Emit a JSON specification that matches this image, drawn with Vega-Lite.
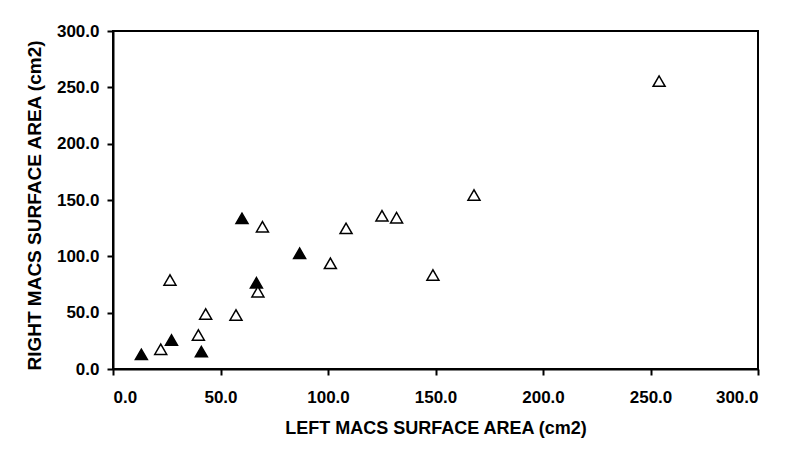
{
  "$schema": "https://vega.github.io/schema/vega-lite/v6.json",
  "width": 645,
  "height": 338,
  "autosize": {"type": "none"},
  "padding": {"left": 113, "top": 31, "right": 42, "bottom": 95},
  "background": "white",
  "config": {
    "view": {"stroke": "black", "strokeWidth": 2},
    "axis": {
      "grid": false,
      "domainColor": "black",
      "domainWidth": 2,
      "tickColor": "black",
      "tickWidth": 2,
      "tickSize": 6,
      "labelFont": "Liberation Sans",
      "labelFontWeight": "bold",
      "labelFontSize": 17,
      "labelColor": "black",
      "titleFont": "Liberation Sans",
      "titleFontWeight": "bold",
      "titleColor": "black",
      "format": ".1f"
    }
  },
  "data": {
    "values": [
      {"left": 13.2, "right": 13.0, "group": "filled"},
      {"left": 27.2, "right": 25.7, "group": "filled"},
      {"left": 41.1, "right": 15.4, "group": "filled"},
      {"left": 60.0, "right": 133.7, "group": "filled"},
      {"left": 66.7, "right": 76.6, "group": "filled"},
      {"left": 86.8, "right": 102.7, "group": "filled"},
      {"left": 22.2, "right": 17.5, "group": "open"},
      {"left": 26.5, "right": 79.0, "group": "open"},
      {"left": 39.7, "right": 30.2, "group": "open"},
      {"left": 43.1, "right": 48.8, "group": "open"},
      {"left": 57.2, "right": 47.9, "group": "open"},
      {"left": 67.4, "right": 68.6, "group": "open"},
      {"left": 69.5, "right": 126.3, "group": "open"},
      {"left": 101.1, "right": 93.8, "group": "open"},
      {"left": 108.4, "right": 124.8, "group": "open"},
      {"left": 125.1, "right": 136.0, "group": "open"},
      {"left": 131.9, "right": 134.3, "group": "open"},
      {"left": 148.8, "right": 83.4, "group": "open"},
      {"left": 167.9, "right": 154.4, "group": "open"},
      {"left": 254.0, "right": 255.5, "group": "open"}
    ]
  },
  "mark": {"type": "point", "shape": "triangle-up", "size": 144, "stroke": "black", "strokeWidth": 1.5, "opacity": 1, "filled": true},
  "encoding": {
    "x": {
      "field": "left",
      "type": "quantitative",
      "scale": {"domain": [0, 300], "nice": false, "zero": true},
      "axis": {
        "values": [0, 50, 100, 150, 200, 250, 300],
        "title": "LEFT MACS SURFACE AREA (cm2)",
        "titleFontSize": 18,
        "labelPadding": 14,
        "titleY": 59,
        "titleBaseline": "middle"
      }
    },
    "y": {
      "field": "right",
      "type": "quantitative",
      "scale": {"domain": [0, 300], "nice": false, "zero": true},
      "axis": {
        "values": [0, 50, 100, 150, 200, 250, 300],
        "title": "RIGHT MACS SURFACE AREA (cm2)",
        "titleFontSize": 19,
        "labelPadding": 8,
        "titleX": -79,
        "titleY": 174,
        "titleAngle": -90,
        "titleAlign": "center",
        "titleBaseline": "middle"
      }
    },
    "fill": {
      "field": "group",
      "type": "nominal",
      "scale": {"domain": ["open", "filled"], "range": ["white", "black"]},
      "legend": null
    }
  }
}
